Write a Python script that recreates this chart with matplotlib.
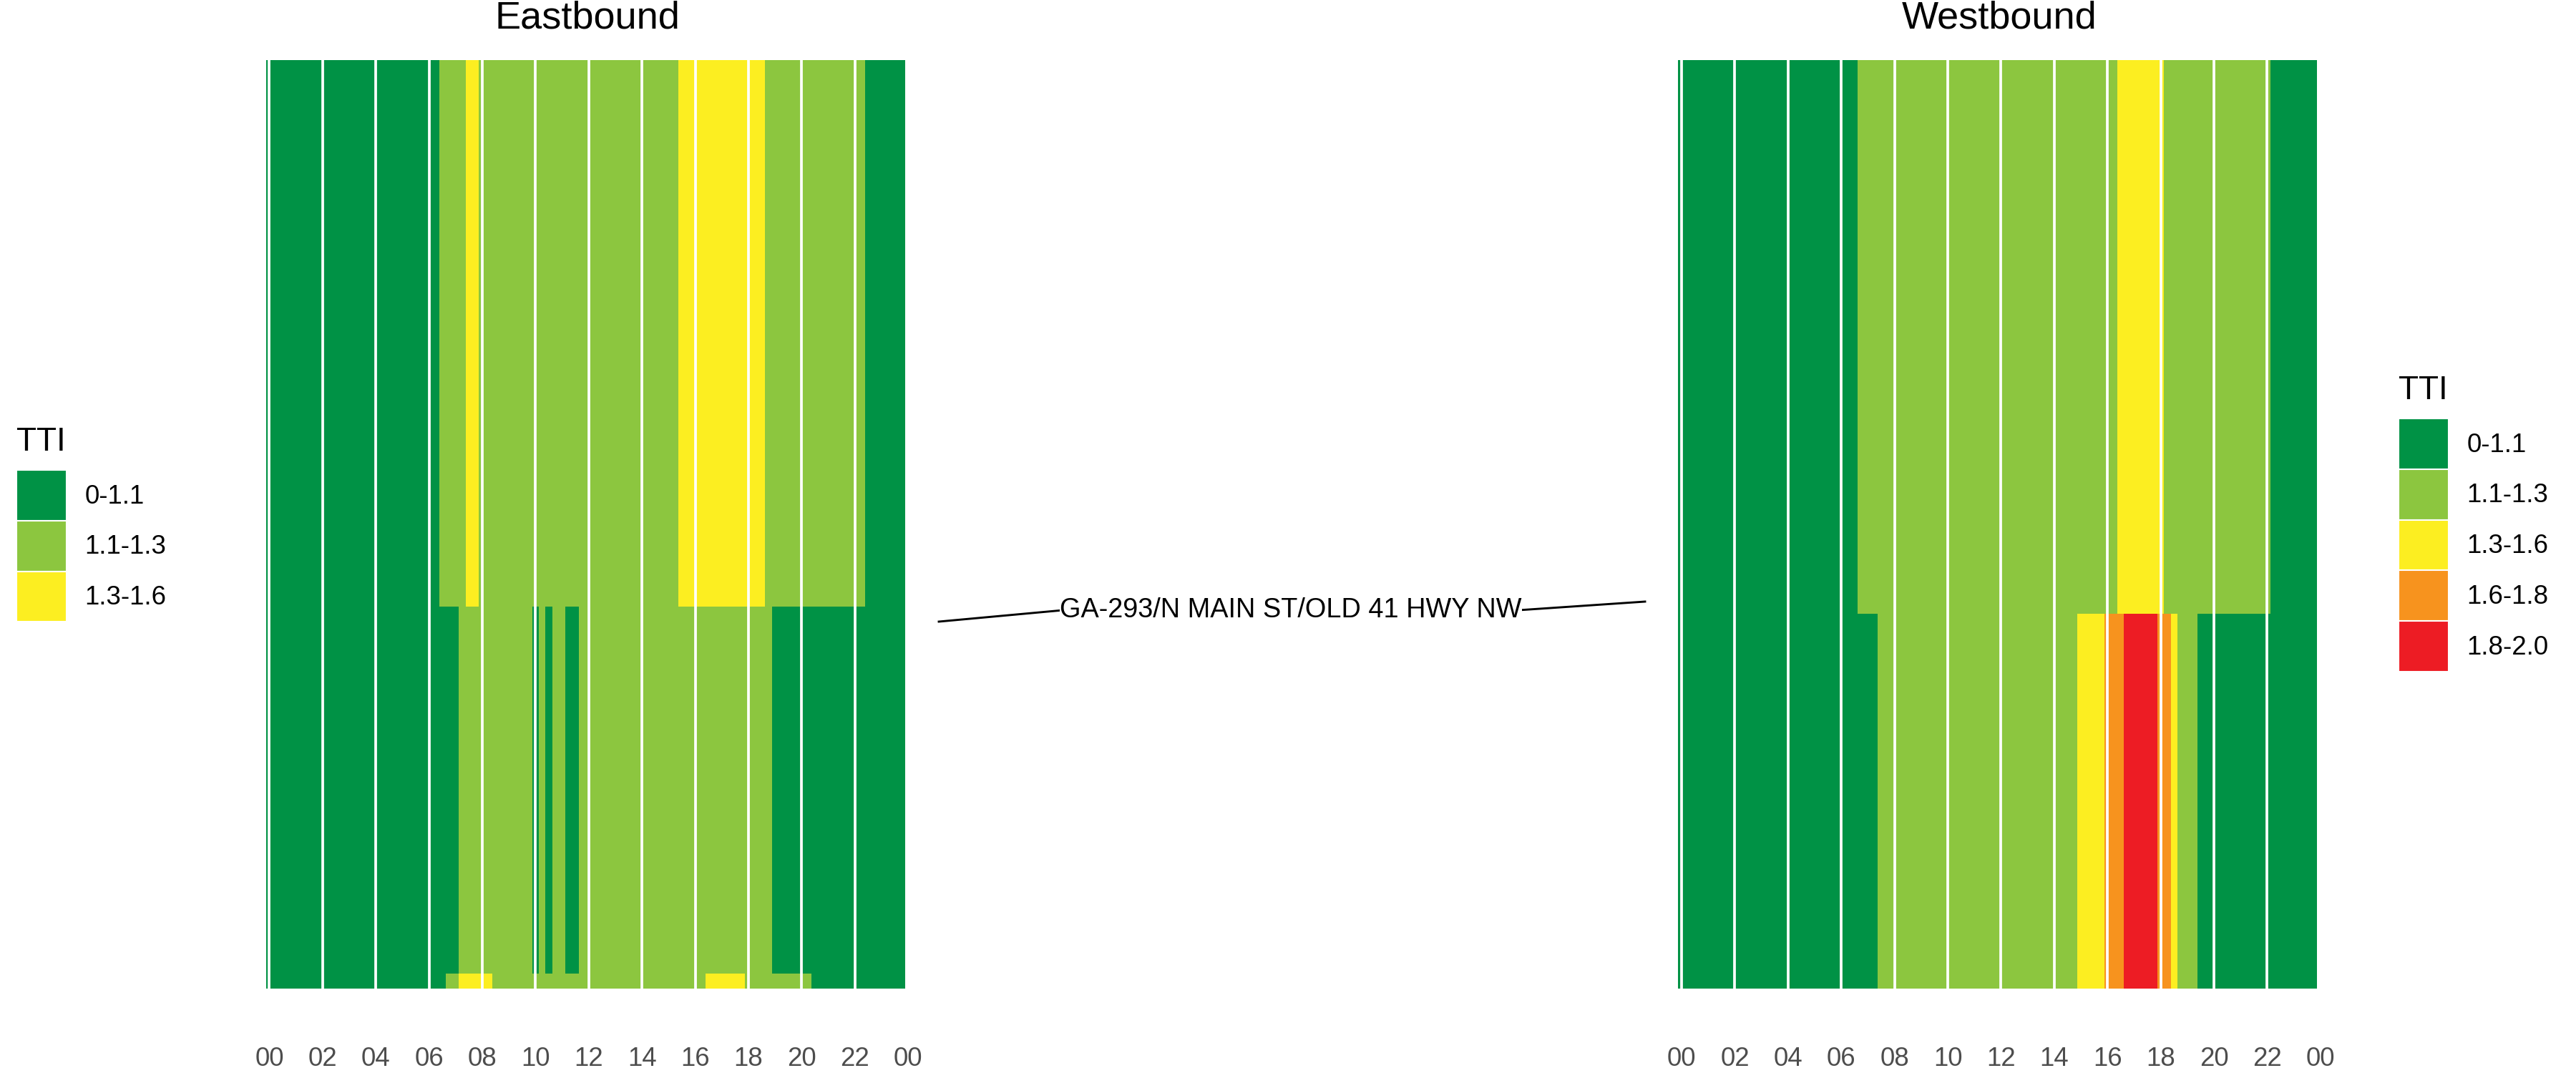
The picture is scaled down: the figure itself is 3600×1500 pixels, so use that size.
import numpy as np
import matplotlib
matplotlib.use("Agg")
import matplotlib.pyplot as plt
from matplotlib.colors import ListedColormap, BoundaryNorm
from matplotlib.patches import Patch

plt.rcParams['font.family'] = ['Liberation Sans', 'DejaVu Sans']

## TTI classes and colours
tti_labels = ['0-1.1', '1.1-1.3', '1.3-1.6', '1.6-1.8', '1.8-2.0']
tti_colors = ['#009245', '#8CC63F', '#FCEE21', '#F7931E', '#ED1C24']

## TTI class per 15 min bin (0 = 0-1.1 ... 4 = 1.8-2.0), one group of 4 per hour
## rows go from the bottom segment up
eb_rows = [
    "0000 0000 0000 0000 0000 0000 0001 1222 2211 1111 1111 1111 1111 1111 1111 1111 1122 2222 1111 1111 1100 0000 0000 0000",
    "0000 0000 0000 0000 0000 0000 0000 0111 1111 1111 0101 1001 1111 1111 1111 1111 1111 1111 1111 0000 0000 0000 0000 0000",
    "0000 0000 0000 0000 0000 0000 0011 1122 1111 1111 1111 1111 1111 1111 1111 1122 2222 2222 2221 1111 1111 1111 1100 0000",
]
wb_rows = [
    "0000 0000 0000 0000 0000 0000 0000 0011 1111 1111 1111 1111 1111 1111 1111 2222 3334 4444 3321 1100 0000 0000 0000 0000",
    "0000 0000 0000 0000 0000 0000 0001 1111 1111 1111 1111 1111 1111 1111 1111 1111 1122 2222 2111 1111 1111 1111 1000 0000",
]
eb_seg_miles = [0.02, 0.51, 0.76]
wb_seg_miles = [0.52, 0.77]

hour_ticks = list(range(0, 25, 2))
hour_labels = ['00', '02', '04', '06', '08', '10', '12', '14', '16', '18', '20', '22', '00']

## road geometry for the middle panel (lon / lat)
road_name = 'GA-293/N MAIN ST/OLD 41 HWY NW'
road_lon = [-84.7800, -84.7624, -84.6979, -84.6800]
road_lat = [34.1500, 34.1516, 34.1516, 34.1528]

bin_hours = np.arange(96) * 0.25
cmap = ListedColormap(tti_colors)
norm = BoundaryNorm(np.arange(-0.5, 5.5, 1), cmap.N)

W, H = 3600, 1500
fig = plt.figure(figsize=(12, 5), dpi=300)


def draw_panel(ax, rows, seg_len, title):
    z = np.array([[int(c) for c in r.replace(' ', '')] for r in rows])
    x_edges = np.append(bin_hours - 0.125, bin_hours[-1] + 0.125)
    y_edges = np.concatenate([[0], np.cumsum(seg_len)])
    ax.pcolormesh(x_edges, y_edges, z, cmap=cmap, norm=norm,
                  edgecolors='none', antialiased=False)
    ax.set_xlim(-0.125, 24)
    ax.set_ylim(0, y_edges[-1])
    ax.set_xticks(hour_ticks)
    ax.set_xticklabels(hour_labels)
    ax.grid(axis='x', color='white', linewidth=0.9)
    ax.set_axisbelow(False)
    ax.tick_params(axis='x', length=0, pad=19.5, labelsize=8.8, labelcolor='#4D4D4D')
    ax.set_yticks([])
    for s in ax.spines.values():
        s.set_visible(False)
    ax.set_title(title, fontsize=13, pad=10.5)


ax_eb = fig.add_axes([371.8 / W, 118.4 / H, 897.4 / W, 1298.1 / H])
draw_panel(ax_eb, eb_rows, eb_seg_miles, 'Eastbound')

ax_wb = fig.add_axes([2345.4 / W, 118.4 / H, 897.4 / W, 1298.1 / H])
draw_panel(ax_wb, wb_rows, wb_seg_miles, 'Westbound')

## middle map panel
ax_m = fig.add_axes([1290 / W, 500 / H, 1030 / W, 300 / H])
ax_m.plot(road_lon, road_lat, color='black', linewidth=0.7)
ax_m.text(np.mean([road_lon[1], road_lon[2]]), road_lat[1], road_name,
          ha='center', va='center', fontsize=9.1, color='black',
          bbox=dict(facecolor='white', edgecolor='none', pad=0))
ax_m.set_xlim(-84.78223, -84.67787)
ax_m.set_ylim(34.1369, 34.1669)
ax_m.axis('off')

## legends
def add_legend(n, key_left, key_top, title_base):
    handles = [Patch(facecolor=tti_colors[i], edgecolor='white', linewidth=0.5,
                     label=tti_labels[i]) for i in range(n)]
    fig.legend(handles=handles, loc='upper left',
               bbox_to_anchor=(key_left / W, 1 - key_top / H),
               frameon=False, fontsize=8.8, handlelength=1.93, handleheight=2.595,
               labelspacing=0, handletextpad=0.68, borderpad=0, borderaxespad=0)
    fig.text(key_left / W, 1 - title_base / H, 'TTI', fontsize=11,
             ha='left', va='baseline')


add_legend(3, 22.7, 657, 630)
add_legend(5, 3351.7, 585, 558)

fig.savefig('out.png', dpi=300, facecolor='white')
